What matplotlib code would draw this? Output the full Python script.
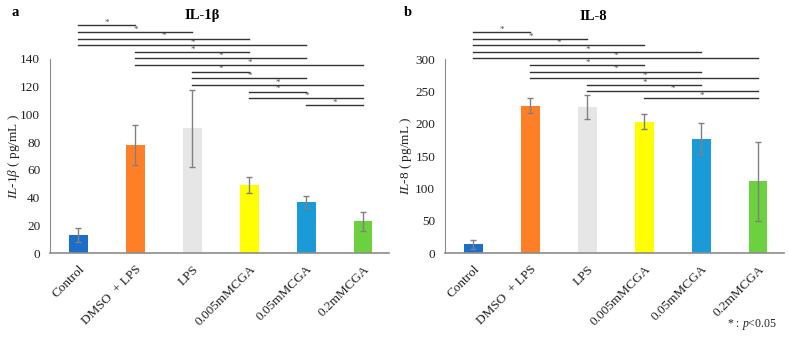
import matplotlib
matplotlib.use("Agg")
import matplotlib.pyplot as plt

plt.rcParams['font.family'] = ['Liberation Serif', 'DejaVu Serif']
plt.rcParams['mathtext.fontset'] = 'custom'
plt.rcParams['mathtext.rm'] = 'Liberation Serif'
plt.rcParams['mathtext.it'] = 'Liberation Serif:italic'

groups = ['Control', 'DMSO  + LPS', 'LPS', '0.005mMCGA', '0.05mMCGA', '0.2mMCGA']
colors = ['#1B6FC8', '#FF7F27', '#E6E6E6', '#FFFF00', '#1A9BD7', '#6CD13E']

il1b_mean = [13, 78, 90, 49, 37, 23]
il1b_err = [5, 14.4, 27.6, 5.8, 4.1, 7]
il1b_pairs = [(0, 1), (0, 2), (0, 3), (0, 4), (1, 3), (1, 4), (1, 5),
              (2, 3), (2, 4), (2, 5), (3, 4), (3, 5), (4, 5)]

il8_mean = [14, 228, 226, 203, 177, 111]
il8_err = [7, 12, 19, 11.5, 24, 61]
il8_pairs = [(0, 1), (0, 2), (0, 3), (0, 4), (0, 5), (1, 3), (1, 4), (1, 5),
             (2, 4), (2, 5), (3, 5)]


def draw_panel(ax, means, errs, pairs, ymax, ytop, yticks, sig_top, sig_step,
               ylabel, label_x):
    x = range(len(groups))
    ax.bar(x, means, width=0.32, color=colors, zorder=2)
    ax.errorbar(x, means, yerr=errs, fmt='none', ecolor='#808080',
                elinewidth=1, capsize=2, capthick=1, zorder=3)
    ax.set_xlim(-0.5, 5.45)
    ax.set_ylim(0, ytop)
    ax.set_yticks(yticks)
    ax.set_xticks(list(x))
    ax.set_xticklabels(groups, rotation=45, ha='right', rotation_mode='anchor',
                       fontsize=9, color='#222222')
    ax.tick_params(axis='both', length=0, labelsize=9.5, colors='#222222')
    ax.tick_params(axis='y', pad=7)
    ax.tick_params(axis='x', pad=7)
    for s in ['top', 'right']:
        ax.spines[s].set_visible(False)
    ax.spines['left'].set_bounds(0, ymax)
    ax.spines['left'].set_color('#8c8c8c')
    ax.spines['bottom'].set_color('#8c8c8c')
    ax.spines['bottom'].set_linewidth(1.2)
    ax.set_ylabel(ylabel, fontsize=9.5, color='#222222')
    ax.yaxis.set_label_coords(label_x, ymax * 0.5 / ytop)

    # significance brackets, one star at the middle of each line
    for i, (a, b) in enumerate(pairs):
        y = sig_top - i * sig_step
        ax.plot([a, b], [y, y], color='#333333', lw=1, clip_on=False, zorder=4)
        ax.annotate('*', xy=((a + b) / 2, y), xytext=(0, -1.2), textcoords='offset points',
                    ha='center', va='bottom', fontsize=6.5, color='#4d4d4d',
                    annotation_clip=False)


fig = plt.figure(figsize=(7.9, 3.38), dpi=100)
h = 236.3 / 338
ax1 = fig.add_axes([50 / 790, 1 - 253.3 / 338, 339 / 790, h])
ax2 = fig.add_axes([445 / 790, 1 - 253.3 / 338, 339 / 790, h])

draw_panel(ax1, il1b_mean, il1b_err, il1b_pairs, 140, 170, range(0, 141, 20),
           164, 4.76, r'$\mathit{IL}$-$\mathit{1\beta}$ ( pg/mL )', -0.082)
draw_panel(ax2, il8_mean, il8_err, il8_pairs, 300, 365, range(0, 301, 50),
           341.6, 10.16, r'$\mathit{IL}$-$\mathit{8}$ ( pg/mL )', -0.092)

fig.text(202 / 790, 1 - 16 / 338, 'IL-1β', ha='center', va='center',
         fontsize=10.5, fontweight='bold')
fig.text(593 / 790, 1 - 16 / 338, 'IL-8', ha='center', va='center',
         fontsize=10.5, fontweight='bold')
fig.text(15 / 790, 1 - 13 / 338, 'a', ha='center', va='center',
         fontsize=10.5, fontweight='bold')
fig.text(408 / 790, 1 - 12 / 338, 'b', ha='center', va='center',
         fontsize=10.5, fontweight='bold')
fig.text(777 / 790, 1 - 325 / 338, r'* : $\mathit{p}$<0.05', ha='right', va='center',
         fontsize=8.5, color='#222222')

fig.savefig('out.png', dpi=100)
